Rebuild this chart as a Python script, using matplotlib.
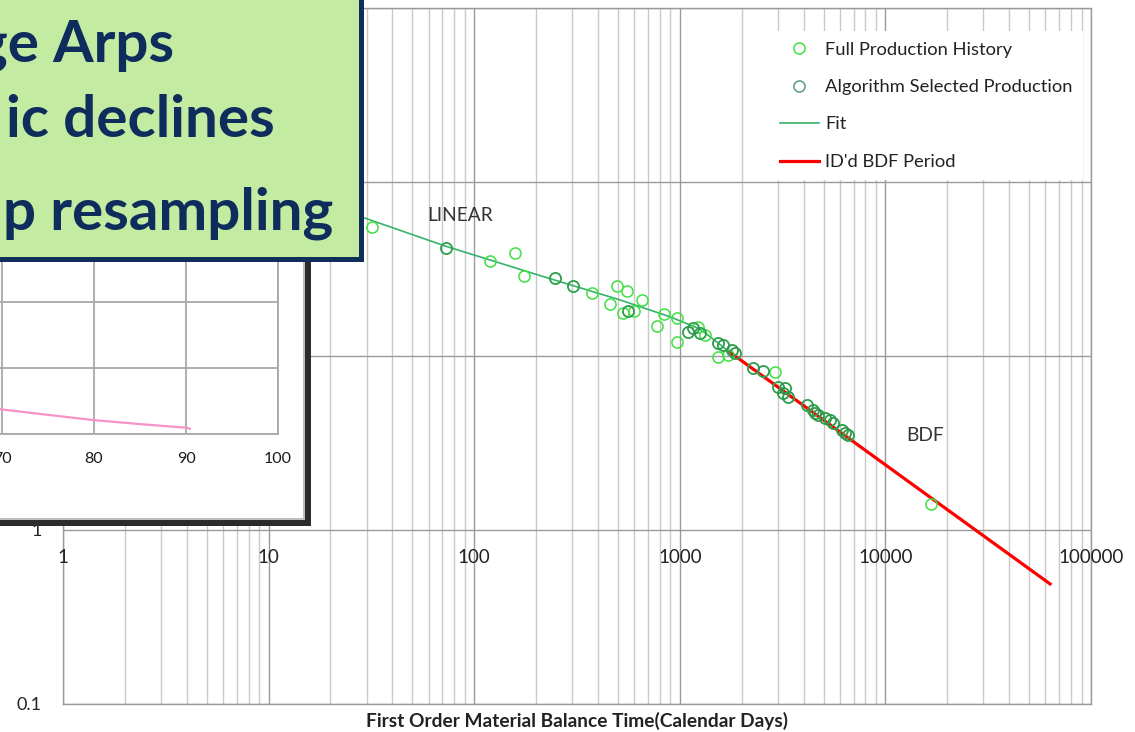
import matplotlib
matplotlib.use("Agg")
import matplotlib.pyplot as plt
from matplotlib.lines import Line2D
from matplotlib.patches import Rectangle
from matplotlib.ticker import FixedLocator, FixedFormatter, LogLocator, NullFormatter

plt.rcParams['font.family'] = ['Lato', 'DejaVu Sans']

# ---- Rate vs. first-order material balance time ----
full_mbt = [31.8, 72.9, 119.4, 157.9, 174.6, 248, 303, 373, 458, 493, 556, 653,
            531, 562, 599, 838, 973, 773, 966, 1099, 1164, 1230, 1254, 1326,
            1538, 1628, 1787, 1856, 1538, 1722, 2278, 2547, 2904, 3014, 3249,
            3187, 3372, 4141, 4458, 4548, 4718, 5084, 5377, 5580, 6131, 6362,
            6601, 16600]
full_rate = [55.1, 41.8, 35.0, 38.9, 28.9, 28.0, 25.4, 23.0, 19.9, 25.2, 23.7, 21.0,
             17.7, 18.1, 18.1, 17.4, 16.6, 14.9, 12.1, 13.8, 14.4, 14.7, 13.5, 13.2,
             11.8, 11.6, 10.8, 10.4, 9.9, 10.1, 8.49, 8.20, 8.13, 6.66, 6.52,
             6.10, 5.83, 5.22, 4.90, 4.69, 4.58, 4.39, 4.29, 4.10, 3.76, 3.59,
             3.52, 1.41]

sel_mbt = [72.9, 248, 303, 562, 1099, 1164, 1254, 1538, 1628, 1787, 1856, 2278,
           2547, 3014, 3249, 3187, 3372, 4141, 4458, 4548, 4718, 5084, 5377,
           5580, 6131, 6362, 6601]
sel_rate = [41.8, 28.0, 25.4, 18.1, 13.8, 14.4, 13.5, 11.8, 11.6, 10.8, 10.4, 8.49,
            8.20, 6.66, 6.52, 6.10, 5.83, 5.22, 4.90, 4.69, 4.58, 4.39, 4.29,
            4.10, 3.76, 3.59, 3.52]

fit_mbt = [24.9, 72.1, 221, 512, 896, 1254, 1754]
fit_rate = [66.4, 42.9, 28.4, 21.0, 16.8, 14.3, 10.5]

bdf_mbt = [1754, 16670, 63200]
bdf_rate = [10.5, 1.53, 0.49]

x_ticks = [1, 10, 100, 1000, 10000, 100000]
x_tick_labels = ['1', '10', '100', '1000', '10000', '100000']
y_ticks = [0.1, 1, 10, 100, 1000]
y_tick_labels = ['0.1', '1', '10', '100', '1000']

legend_labels = ['Full Production History', 'Algorithm Selected Production',
                 'Fit', "ID'd BDF Period"]

# ---- small decline chart shown in the side panel ----
inset_x = [69.8, 75, 80, 85, 90, 90.4]
inset_y = [7.5, 5.8, 4.2, 3.0, 1.9, 1.6]
inset_xticks = [70, 80, 90, 100]
inset_xtick_labels = ['70', '80', '90', '100']
inset_yticks = [0, 20, 40, 60]

banner_lines = ['ge Arps', 'ic declines', 'p resampling']

W, H = 1135, 732
fig = plt.figure(figsize=(W / 100, H / 100), dpi=100)


def fig_rect(x0, y0, x1, y1):
    """Pixel box (top-left origin) -> figure fraction rect."""
    return [x0 / W, 1 - y1 / H, (x1 - x0) / W, (y1 - y0) / H]


full_c = '#3FE03F'
sel_c = '#2F8F55'
fit_c = '#35B36B'
bdf_c = '#FF0000'
grid_major = '#9a9a9a'
grid_minor = '#c9c9c9'
txt_c = '#222222'

ax = fig.add_axes(fig_rect(63, 8, 1091, 704))
ax.set_xscale('log')
ax.set_yscale('log')
ax.set_xlim(1, 1e5)
ax.set_ylim(0.1, 1000)

ax.xaxis.set_major_locator(FixedLocator(x_ticks))
ax.xaxis.set_minor_locator(LogLocator(base=10, subs=range(2, 10), numticks=20))
ax.xaxis.set_minor_formatter(NullFormatter())
ax.yaxis.set_major_locator(FixedLocator(y_ticks))
ax.yaxis.set_major_formatter(FixedFormatter(y_tick_labels))
ax.yaxis.set_minor_locator(FixedLocator([]))
ax.grid(which='major', axis='both', color=grid_major, lw=1.0)
ax.grid(which='minor', axis='x', color=grid_minor, lw=1.0)
ax.set_axisbelow(True)
for s in ax.spines.values():
    s.set_color(grid_major)
    s.set_linewidth(1.0)
ax.tick_params(axis='both', which='both', length=0)
ax.tick_params(axis='x', labelbottom=False)
ax.tick_params(axis='y', labelsize=13, labelcolor=txt_c, pad=15.5)

# x tick labels sit just under the rate = 1 line
for t, lbl in zip(x_ticks, x_tick_labels):
    ax.annotate(lbl, xy=(t, 1), xytext=(0, -19.5), textcoords='offset points',
                ha='center', va='center', fontsize=13.5, color=txt_c,
                annotation_clip=False)

ax.set_xlabel('First Order Material Balance Time(Calendar Days)',
              fontsize=13.8, fontweight='bold', color=txt_c)
ax.xaxis.set_label_coords(0.5, -17 / 696)
ax.xaxis.label.set_va('center')

ax.plot(fit_mbt, fit_rate, color=fit_c, lw=1.2, zorder=3)
ax.plot(bdf_mbt, bdf_rate, color=bdf_c, lw=2.3, zorder=3)
ax.plot(full_mbt, full_rate, ls='none', marker='o', ms=8, mfc='none',
        mec=full_c, mew=1.1, zorder=4)
ax.plot(sel_mbt, sel_rate, ls='none', marker='o', ms=8, mfc='none',
        mec=sel_c, mew=1.2, alpha=0.85, zorder=5)

ax.text(85.8, 63.8, 'LINEAR', fontsize=13.8, color='#333333',
        ha='center', va='center')
ax.text(15520, 3.47, 'BDF', fontsize=13.8, color='#333333',
        ha='center', va='center')

handles = [
    Line2D([], [], ls='none', marker='o', ms=8, mfc='none', mec=full_c, mew=1.1),
    Line2D([], [], ls='none', marker='o', ms=8, mfc='none', mec='#5a9c7c', mew=1.1),
    Line2D([], [], color=fit_c, lw=1.2),
    Line2D([], [], color=bdf_c, lw=2.3),
]
leg = ax.legend(handles, legend_labels, loc='upper left',
                bbox_to_anchor=(770 / W, 1 - 31.5 / H), bbox_transform=fig.transFigure,
                frameon=True, facecolor='white', edgecolor='none', framealpha=1,
                fancybox=False, borderpad=0.55, borderaxespad=0, fontsize=13.2,
                handlelength=2.1, handletextpad=0.35, labelspacing=1.17)
for t in leg.get_texts():
    t.set_color(txt_c)

# ---- side panel (framed picture of another chart) ----
panel = fig.add_axes([0, 0, 1, 1], zorder=2)
panel.set_xlim(0, W)
panel.set_ylim(H, 0)
panel.axis('off')
panel.patch.set_visible(False)
panel.add_patch(Rectangle((-20, -20), 331, 546, fc='#2b2b2b', ec='none'))
panel.add_patch(Rectangle((-20, -20), 325, 540, fc='#bdbdbd', ec='none'))
panel.add_patch(Rectangle((-20, -20), 323, 538, fc='white', ec='none'))

inset = fig.add_axes(fig_rect(278 - 40 * 9.2, 236, 278, 434), zorder=3)
inset.set_xlim(60, 100)
inset.set_ylim(0, 60)
inset.xaxis.set_major_locator(FixedLocator(inset_xticks))
inset.xaxis.set_major_formatter(FixedFormatter(inset_xtick_labels))
inset.yaxis.set_major_locator(FixedLocator(inset_yticks))
inset.grid(True, color='#a8a8a8', lw=1.3)
for s in inset.spines.values():
    s.set_color('#a8a8a8')
    s.set_linewidth(1.3)
inset.tick_params(length=0, labelsize=11.5, labelcolor='#1a1a1a', pad=13)
inset.tick_params(axis='y', labelleft=False)
inset.plot(inset_x, inset_y, color='#F592C8', lw=1.6)

# ---- title banner ----
banner = fig.add_axes([0, 0, 1, 1], zorder=4)
banner.set_xlim(0, W)
banner.set_ylim(H, 0)
banner.axis('off')
banner.patch.set_visible(False)
banner.add_patch(Rectangle((-20, -20), 381, 279, fc='#C4EBA2', ec='#0F2E5A', lw=3.6))
for txt, xpos, ha, yb in zip(banner_lines, [174, 140, 168], ['right', 'center', 'center'],
                             [62, 137, 230]):
    banner.text(xpos, yb, txt, fontsize=42, fontweight='bold', color='#0E2C5C',
                ha=ha, va='baseline')

fig.savefig('out.png', dpi=100)
